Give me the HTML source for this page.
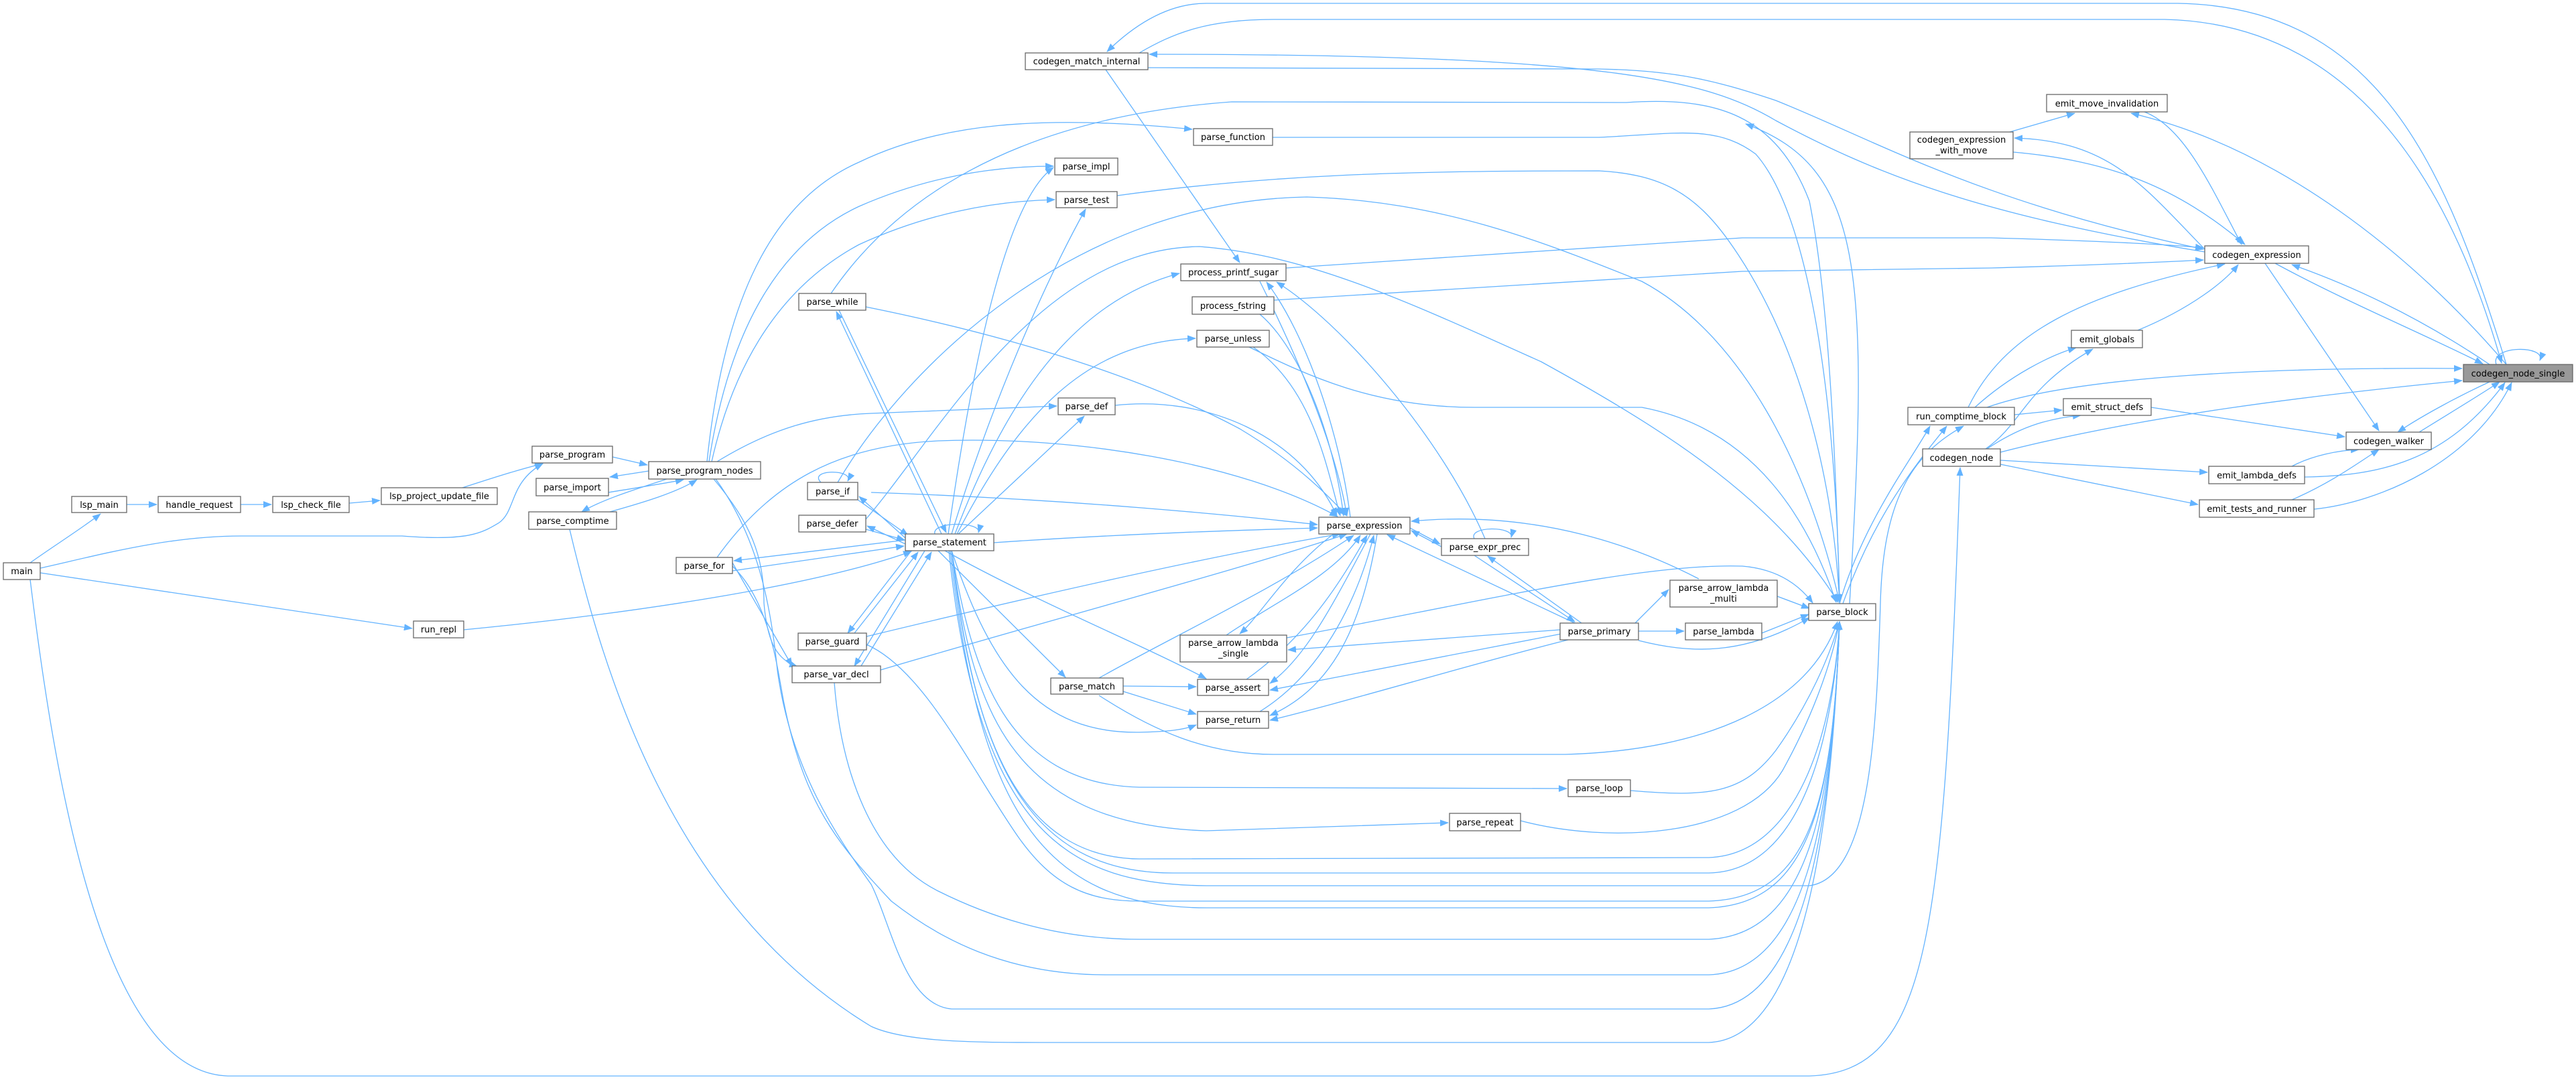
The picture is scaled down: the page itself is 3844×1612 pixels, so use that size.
<!DOCTYPE html>
<html><head><meta charset="utf-8"><style>
html,body{margin:0;padding:0;background:#fff}
svg{display:block}
text{font-family:"DejaVu Sans","Liberation Sans",sans-serif;font-size:13px;fill:#000}
.e{fill:none;stroke:#63b3ff;stroke-width:1.3}
.n{fill:#fff;stroke:#666;stroke-width:1.3}
</style></head><body>
<svg width="3844" height="1612" viewBox="0 0 3844 1612" xmlns="http://www.w3.org/2000/svg">
<defs><marker id="a" markerUnits="userSpaceOnUse" markerWidth="13" markerHeight="10" refX="12" refY="5" orient="auto"><path d="M0,0 L13,5 L0,10 z" fill="#63b3ff"/></marker></defs>
<g class="e" marker-end="url(#a)">
<path d="M45,840 C80,815 120,790 150,767"/>
<path d="M189,753 L234,753"/>
<path d="M359,753 L405,753"/>
<path d="M521,751 L567,747"/>
<path d="M690,728 C730,715 770,702 810,692"/>
<path d="M60,848 C150,828 250,800 360,800 L600,800 C700,808 720,795 745,780 C770,762 760,720 810,692"/>
<path d="M60,855 L615,938"/>
<path d="M692,940 C900,920 1200,880 1360,823"/>
<path d="M45,865 C80,1150 150,1600 340,1606 L2700,1606 C2880,1600 2900,1400 2925,698"/>
<path d="M914,682 L966,694"/>
<path d="M968,703 L910,712"/>
<path d="M908,735 C950,728 990,722 1020,716"/>
<path d="M995,715 C950,730 900,745 868,764"/>
<path d="M910,764 C960,750 1010,735 1040,716"/>
<path d="M850,790 C900,1000 1000,1350 1300,1532 C1350,1555 1450,1556 1550,1556 L2550,1556 C2700,1550 2735,1200 2745,928"/>
<path d="M1055,689 C1080,450 1150,300 1282,242 C1400,185 1550,170 1779,193"/>
<path d="M1058,689 C1090,480 1170,360 1282,308 C1380,265 1480,248 1572,248"/>
<path d="M1062,689 C1100,520 1180,420 1282,365 C1380,320 1480,300 1574,298"/>
<path d="M1070,689 C1150,640 1220,620 1300,617 L1577,606"/>
<path d="M1065,715 C1120,780 1140,830 1140,900 C1145,960 1160,985 1190,995"/>
<path d="M1068,715 C1130,800 1150,900 1160,1000 C1180,1150 1250,1250 1300,1320 C1330,1380 1350,1500 1420,1506 L2550,1506 C2700,1500 2735,1200 2745,928"/>
<path d="M1093,845 C1150,900 1160,1000 1170,1050 C1200,1200 1250,1260 1330,1345 C1400,1400 1500,1455 1650,1455 L2550,1455 C2700,1450 2735,1200 2745,928"/>
<path d="M1245,1019 C1255,1150 1300,1280 1400,1330 C1500,1380 1600,1402 1700,1402 L2550,1402 C2700,1395 2735,1200 2745,928"/>
<path d="M1293,962 C1380,1000 1450,1150 1520,1250 C1570,1320 1620,1345 1700,1345 L2550,1345 C2700,1340 2735,1200 2745,928"/>
<path d="M1093,840 L1182,994"/>
<path d="M1093,852 L1349,815"/>
<path d="M1351,806 L1095,837"/>
<path d="M1070,832 C1150,720 1250,665 1400,658 C1600,650 1850,690 1996,771"/>
<path d="M1420,822 C1450,1000 1500,1170 1700,1175 L2338,1177"/>
<path d="M1420,822 C1450,1050 1500,1230 1800,1240 L2161,1228"/>
<path d="M1420,822 C1450,1100 1520,1280 1700,1282 L2550,1280 C2680,1275 2735,1100 2745,928"/>
<path d="M1420,822 C1455,1130 1530,1303 1750,1303 L2550,1303 C2690,1300 2735,1100 2745,928"/>
<path d="M1418,822 C1460,1200 1550,1355 1800,1355 L2550,1355 C2700,1350 2735,1200 2745,928"/>
<path d="M1420,822 C1480,1000 1550,1095 1700,1093 C1750,1092 1770,1088 1785,1082"/>
<path d="M1400,822 L1590,1011"/>
<path d="M1410,822 C1550,900 1700,960 1800,1013"/>
<path d="M1430,797 L1618,621"/>
<path d="M1420,797 C1480,600 1560,420 1620,312"/>
<path d="M1415,797 C1450,550 1500,300 1572,250"/>
<path d="M1425,797 C1500,600 1600,450 1760,408"/>
<path d="M1428,797 C1520,620 1620,510 1784,505"/>
<path d="M1483,810 C1700,795 1900,790 1966,788"/>
<path d="M1395,797 C1390,778 1465,778 1460,795"/>
<path d="M1405,797 L1248,465"/>
<path d="M1252,463 L1412,795"/>
<path d="M1351,803 L1282,741"/>
<path d="M1280,746 L1355,799"/>
<path d="M1351,812 L1294,785"/>
<path d="M1292,790 L1350,806"/>
<path d="M1360,822 L1265,945"/>
<path d="M1275,945 L1370,824"/>
<path d="M1380,822 L1275,994"/>
<path d="M1285,994 L1390,824"/>
<path d="M1225,720 C1205,700 1275,700 1265,718"/>
<path d="M1240,438 C1300,350 1450,180 1838,152 L2427,153 C2560,144 2650,170 2700,300 C2730,450 2740,700 2745,899"/>
<path d="M1292,458 C1500,500 1700,560 1850,640 C1950,700 2000,760 2010,770"/>
<path d="M1250,720 C1350,550 1600,300 1950,294 C2150,300 2300,360 2450,420 C2600,500 2700,700 2745,899"/>
<path d="M1292,775 C1400,650 1550,370 1790,368 C1950,380 2100,450 2300,540 C2500,650 2650,750 2743,899"/>
<path d="M1300,735 C1600,745 1850,770 1966,783"/>
<path d="M1293,950 C1500,900 1800,830 2000,797"/>
<path d="M1314,1000 C1550,930 1850,850 2010,797"/>
<path d="M1899,205 L2386,205 C2500,200 2560,185 2620,230 C2700,320 2740,600 2745,899"/>
<path d="M1667,292 C1900,260 2100,255 2386,255 C2480,260 2530,290 2580,360 C2680,500 2735,700 2745,899"/>
<path d="M1864,518 C1950,560 2050,608 2200,608 L2450,608 C2620,640 2700,780 2740,899"/>
<path d="M1640,1038 C1720,1090 1800,1126 1900,1126 L2336,1126 C2550,1120 2700,1050 2742,928"/>
<path d="M2433,1180 C2550,1190 2600,1185 2650,1120 C2700,1050 2730,980 2745,928"/>
<path d="M2269,1225 C2400,1260 2600,1250 2660,1150 C2710,1060 2735,980 2745,928"/>
<path d="M2445,956 C2520,975 2600,980 2700,922"/>
<path d="M2629,945 L2699,917"/>
<path d="M2652,890 L2700,908"/>
<path d="M1920,952 C2200,900 2450,840 2600,845 C2660,850 2690,880 2705,900"/>
<path d="M2440,930 L2490,880"/>
<path d="M2445,942 L2513,942"/>
<path d="M2535,864 C2450,820 2300,760 2106,778"/>
<path d="M2328,940 L1922,970"/>
<path d="M2330,946 L1895,1030"/>
<path d="M2340,955 C2200,990 2000,1050 1895,1075"/>
<path d="M1676,1024 L1785,1025"/>
<path d="M1676,1032 L1785,1066"/>
<path d="M1650,104 L1850,392"/>
<path d="M1880,420 C1920,500 1990,650 2010,770"/>
<path d="M2015,772 C2000,650 1950,500 1890,421"/>
<path d="M1880,469 C1940,520 1990,650 2005,770"/>
<path d="M1870,518 C1960,580 1980,700 2000,770"/>
<path d="M1664,605 C1800,590 1940,650 1995,770"/>
<path d="M2216,804 C2150,650 2000,480 1905,421"/>
<path d="M2104,788 L2149,812"/>
<path d="M2151,816 L2106,792"/>
<path d="M2200,804 C2190,785 2260,785 2255,802"/>
<path d="M2200,829 L2350,928"/>
<path d="M2360,930 L2220,830"/>
<path d="M2350,930 L2070,798"/>
<path d="M1830,948 C1900,900 1990,860 2030,799"/>
<path d="M1990,797 C1920,850 1880,920 1850,946"/>
<path d="M1860,1014 C1950,950 2000,870 2040,799"/>
<path d="M2045,797 C1990,900 1950,980 1895,1020"/>
<path d="M1880,1062 C1980,1000 2030,880 2050,799"/>
<path d="M2055,797 C2030,950 1980,1030 1895,1068"/>
<path d="M1640,1012 C1750,950 1900,880 2020,799"/>
<path d="M3740,544 C3650,250 3550,10 3250,5 L1800,5 C1750,5 1700,30 1652,77"/>
<path d="M1700,79 C1750,50 1800,29 1900,29 L3230,29 C3500,35 3650,250 3733,542"/>
<path d="M1713,101 L2386,103 C2500,105 2560,120 2650,150 C2800,210 2950,300 3288,372"/>
<path d="M3290,376 C2950,320 2800,260 2650,180 C2550,120 2400,81 1715,81"/>
<path d="M1919,400 L2600,355 L2971,355 C3150,360 3250,366 3288,370"/>
<path d="M1901,448 L2600,405 L2971,400 C3150,395 3250,390 3288,388"/>
<path d="M3395,393 C3500,450 3620,500 3705,543"/>
<path d="M3715,544 C3620,480 3520,430 3420,395"/>
<path d="M3380,393 L3550,643"/>
<path d="M3740,544 C3600,380 3400,220 3180,169"/>
<path d="M3290,372 C3200,280 3150,210 3006,206"/>
<path d="M3004,227 C3150,240 3250,280 3350,365"/>
<path d="M3200,167 C3260,190 3300,280 3345,365"/>
<path d="M2999,197 L3096,169"/>
<path d="M2937,608 C2990,500 3100,440 3320,394"/>
<path d="M3190,493 C3270,460 3320,420 3340,395"/>
<path d="M2947,608 C3000,560 3060,530 3098,519"/>
<path d="M2963,670 C3020,630 3020,580 3123,521"/>
<path d="M3006,619 L3077,612"/>
<path d="M2965,670 C3010,640 3050,625 3105,620"/>
<path d="M2965,608 C3100,560 3400,548 3674,550"/>
<path d="M2985,675 C3200,620 3450,590 3674,568"/>
<path d="M3210,608 L3499,652"/>
<path d="M2985,687 L3294,705"/>
<path d="M2985,693 L3280,753"/>
<path d="M3420,696 C3450,680 3490,672 3520,671"/>
<path d="M3420,746 C3480,720 3520,690 3550,671"/>
<path d="M3439,712 C3550,710 3650,690 3738,571"/>
<path d="M3453,760 C3550,750 3690,690 3748,571"/>
<path d="M3715,570 C3650,600 3600,630 3578,645"/>
<path d="M3610,645 C3650,620 3700,590 3730,570"/>
<path d="M3725,544 C3715,515 3800,515 3790,538"/>
<path d="M2745,901 C2780,780 2850,690 2880,636"/>
<path d="M2750,901 C2800,760 2870,680 2905,636"/>
<path d="M1416,822 C1460,1250 1600,1320 1800,1322 L2700,1322 C2790,1310 2800,1100 2806,900 C2810,750 2850,680 2930,636"/>
<path d="M2760,901 C2790,400 2780,250 2605,185"/>
</g>
<g>
<rect class="n" x="5" y="840" width="55" height="25"/><text x="32.5" y="857" text-anchor="middle">main</text>
<rect class="n" x="107" y="741" width="82" height="24"/><text x="148" y="758" text-anchor="middle">lsp_main</text>
<rect class="n" x="236" y="741" width="123" height="24"/><text x="297.5" y="758" text-anchor="middle">handle_request</text>
<rect class="n" x="407" y="741" width="114" height="24"/><text x="464" y="758" text-anchor="middle">lsp_check_file</text>
<rect class="n" x="569" y="728" width="173" height="25"/><text x="655.5" y="745" text-anchor="middle">lsp_project_update_file</text>
<rect class="n" x="794" y="666" width="120" height="25"/><text x="854" y="683" text-anchor="middle">parse_program</text>
<rect class="n" x="968" y="689" width="167" height="26"/><text x="1051.5" y="707" text-anchor="middle">parse_program_nodes</text>
<rect class="n" x="800" y="714" width="108" height="26"/><text x="854" y="732" text-anchor="middle">parse_import</text>
<rect class="n" x="789" y="764" width="131" height="26"/><text x="854.5" y="782" text-anchor="middle">parse_comptime</text>
<rect class="n" x="1009" y="832" width="84" height="24"/><text x="1051" y="849" text-anchor="middle">parse_for</text>
<rect class="n" x="617" y="927" width="75" height="25"/><text x="654.5" y="944" text-anchor="middle">run_repl</text>
<rect class="n" x="1192" y="438" width="100" height="25"/><text x="1242" y="455" text-anchor="middle">parse_while</text>
<rect class="n" x="1205" y="720" width="75" height="26"/><text x="1242.5" y="738" text-anchor="middle">parse_if</text>
<rect class="n" x="1192" y="769" width="100" height="25"/><text x="1242" y="786" text-anchor="middle">parse_defer</text>
<rect class="n" x="1191" y="945" width="102" height="25"/><text x="1242" y="962" text-anchor="middle">parse_guard</text>
<rect class="n" x="1182" y="994" width="132" height="25"/><text x="1248" y="1011" text-anchor="middle">parse_var_decl</text>
<rect class="n" x="1530" y="79" width="183" height="25"/><text x="1621.5" y="96" text-anchor="middle">codegen_match_internal</text>
<rect class="n" x="1781" y="192" width="118" height="25"/><text x="1840" y="209" text-anchor="middle">parse_function</text>
<rect class="n" x="1574" y="236" width="94" height="25"/><text x="1621" y="253" text-anchor="middle">parse_impl</text>
<rect class="n" x="1576" y="286" width="91" height="24"/><text x="1621.5" y="303" text-anchor="middle">parse_test</text>
<rect class="n" x="1762" y="394" width="157" height="25"/><text x="1840.5" y="411" text-anchor="middle">process_printf_sugar</text>
<rect class="n" x="1779" y="443" width="122" height="26"/><text x="1840" y="461" text-anchor="middle">process_fstring</text>
<rect class="n" x="1786" y="493" width="108" height="25"/><text x="1840" y="510" text-anchor="middle">parse_unless</text>
<rect class="n" x="1579" y="594" width="85" height="25"/><text x="1621.5" y="611" text-anchor="middle">parse_def</text>
<rect class="n" x="1351" y="797" width="132" height="25"/><text x="1417" y="814" text-anchor="middle">parse_statement</text>
<rect class="n" x="1968" y="772" width="136" height="25"/><text x="2036" y="789" text-anchor="middle">parse_expression</text>
<rect class="n" x="2151" y="804" width="130" height="25"/><text x="2216" y="821" text-anchor="middle">parse_expr_prec</text>
<rect class="n" x="1761" y="948" width="159" height="40"/><text x="1840.5" y="964" text-anchor="middle">parse_arrow_lambda</text><text x="1840.5" y="980" text-anchor="middle">_single</text>
<rect class="n" x="1568" y="1012" width="108" height="24"/><text x="1622" y="1029" text-anchor="middle">parse_match</text>
<rect class="n" x="1787" y="1014" width="106" height="24"/><text x="1840" y="1031" text-anchor="middle">parse_assert</text>
<rect class="n" x="1787" y="1062" width="106" height="25"/><text x="1840" y="1079" text-anchor="middle">parse_return</text>
<rect class="n" x="2340" y="1164" width="93" height="25"/><text x="2386.5" y="1181" text-anchor="middle">parse_loop</text>
<rect class="n" x="2163" y="1214" width="106" height="26"/><text x="2216" y="1232" text-anchor="middle">parse_repeat</text>
<rect class="n" x="2328" y="930" width="117" height="25"/><text x="2386.5" y="947" text-anchor="middle">parse_primary</text>
<rect class="n" x="2492" y="866" width="160" height="40"/><text x="2572" y="882" text-anchor="middle">parse_arrow_lambda</text><text x="2572" y="898" text-anchor="middle">_multi</text>
<rect class="n" x="2515" y="930" width="114" height="25"/><text x="2572" y="947" text-anchor="middle">parse_lambda</text>
<rect class="n" x="2699" y="901" width="100" height="25"/><text x="2749" y="918" text-anchor="middle">parse_block</text>
<rect class="n" x="3054" y="141" width="180" height="26"/><text x="3144" y="159" text-anchor="middle">emit_move_invalidation</text>
<rect class="n" x="2850" y="197" width="154" height="40"/><text x="2927" y="213" text-anchor="middle">codegen_expression</text><text x="2927" y="229" text-anchor="middle">_with_move</text>
<rect class="n" x="3290" y="367" width="155" height="26"/><text x="3367.5" y="385" text-anchor="middle">codegen_expression</text>
<rect class="n" x="3091" y="493" width="106" height="26"/><text x="3144" y="511" text-anchor="middle">emit_globals</text>
<rect x="3676" y="544" width="163" height="26" fill="#999" stroke="#666" stroke-width="1.3"/><text x="3757.5" y="562" text-anchor="middle">codegen_node_single</text>
<rect class="n" x="2847" y="608" width="159" height="26"/><text x="2926.5" y="626" text-anchor="middle">run_comptime_block</text>
<rect class="n" x="3079" y="595" width="131" height="25"/><text x="3144.5" y="612" text-anchor="middle">emit_struct_defs</text>
<rect class="n" x="3501" y="645" width="127" height="26"/><text x="3564.5" y="663" text-anchor="middle">codegen_walker</text>
<rect class="n" x="2869" y="670" width="116" height="26"/><text x="2927" y="688" text-anchor="middle">codegen_node</text>
<rect class="n" x="3296" y="696" width="143" height="26"/><text x="3367.5" y="714" text-anchor="middle">emit_lambda_defs</text>
<rect class="n" x="3282" y="746" width="171" height="26"/><text x="3367.5" y="764" text-anchor="middle">emit_tests_and_runner</text>
</g>
</svg>
</body></html>
